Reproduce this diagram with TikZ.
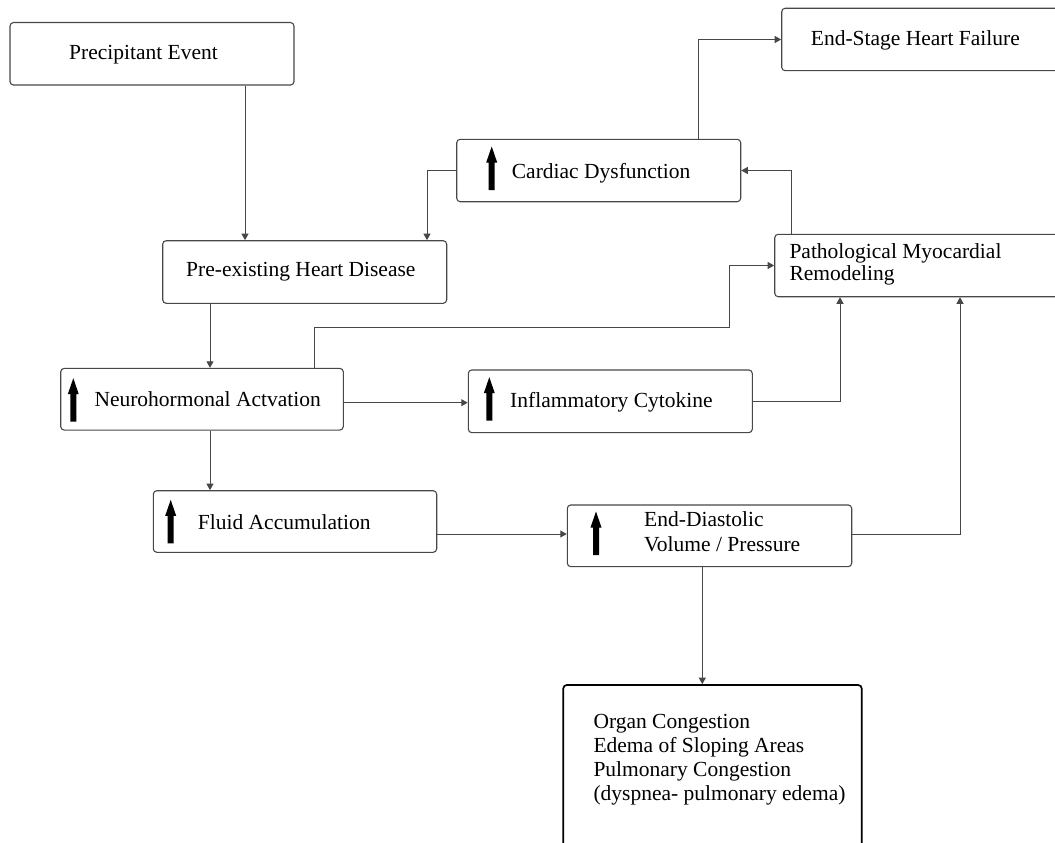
\documentclass[tikz,border=0pt]{standalone}
\usepackage{fontspec}
\setmainfont{Liberation Serif}
\usetikzlibrary{arrows.meta}
\begin{document}
\begin{tikzpicture}[x=1pt,y=-1pt,
  box/.style={draw=black!72,line width=1.1pt,rounded corners=3.5pt,inner sep=0pt},
  bigbox/.style={draw=black,line width=1.7pt,rounded corners=3.5pt,inner sep=0pt},
  txt/.style={inner sep=0pt,anchor=base west,align=left,font=\fontsize{21.5}{24.3}\selectfont},
  conn/.style={draw=black!72,line width=1pt},
  arr/.style={conn,-{Triangle[length=6.5pt,width=7pt]}},
  uparr/.pic={\fill[black] (-3,0) -- (-3,-27.5) -- (-5.5,-27.5) -- (0,-43.5) -- (5.5,-27.5) -- (3,-27.5) -- (3,0) -- cycle;}]
\useasboundingbox (0,0) rectangle (1055,843);
% boxes
\node[box,minimum width=284pt,minimum height=62.5pt] (prec) at (152,53.8) {};
\node[box,minimum width=284pt,minimum height=62.6pt] (pre) at (304.7,272) {};
\node[box,minimum width=284pt,minimum height=62.4pt] (cardiac) at (598.7,170.5) {};
\node[box,minimum width=300pt,minimum height=62.4pt] (endstage) at (931.7,39.5) {};
\node[box,minimum width=306pt,minimum height=62.4pt] (path) at (927.7,265.5) {};
\node[box,minimum width=282.6pt,minimum height=61.7pt] (neuro) at (202,399.2) {};
\node[box,minimum width=284pt,minimum height=62.7pt] (infl) at (610.3,401.3) {};
\node[box,minimum width=283.4pt,minimum height=61.6pt] (fluid) at (295,521.5) {};
\node[box,minimum width=284.4pt,minimum height=61.7pt] (edv) at (709.5,535.8) {};
\node[bigbox,minimum width=298.4pt,minimum height=215pt] (organ) at (712.5,792.5) {};
% texts (base anchor = baseline of the last line)
\node[txt] (precT) at (69,59.3) {Precipitant Event};
\node[txt] (preT) at (186,276) {Pre-existing Heart Disease};
\node[txt] (cardiacT) at (511.7,178.3) {Cardiac Dysfunction};
\node[txt] (endstageT) at (810.7,45.7) {End-Stage Heart Failure};
\node[txt,font=\fontsize{21.5}{21.7}\selectfont] (pathT) at (789.3,280) {Pathological Myocardial\\Remodeling};
\node[txt] (neuroT) at (94.3,406) {Neurohormonal Actvation};
\node[txt] (inflT) at (510,407.3) {Inflammatory Cytokine};
\node[txt] (fluidT) at (197.7,529.3) {Fluid Accumulation};
\node[txt,font=\fontsize{21.5}{25}\selectfont] (edvT) at (644,551.7) {End-Diastolic\\Volume / Pressure};
\node[txt,font=\fontsize{21.5}{24.2}\selectfont] (organT) at (593.3,800.9) {Organ Congestion\\Edema of Sloping Areas\\Pulmonary Congestion\\(dyspnea- pulmonary edema)};
% up arrows
\pic (cardiacA) at (491.7,190) {uparr};
\pic (neuroA) at (73.3,421.7) {uparr};
\pic (inflA) at (489.3,420.7) {uparr};
\pic (fluidA) at (170.7,543.3) {uparr};
\pic (edvA) at (596,555) {uparr};
% connector helper coordinates
\coordinate (a1) at (245,0);
\coordinate (b1) at (427,0);
\coordinate (c1) at (698,0);
\coordinate (d1) at (791,0);
\coordinate (e1) at (210,0);
\coordinate (f1) at (314.5,327.5);
\coordinate (f2) at (729.5,327.5);
\coordinate (g1) at (0,402.7);
\coordinate (h1) at (840,0);
\coordinate (j1) at (0,534);
\coordinate (k1) at (960,0);
\coordinate (l1) at (702.3,0);
% connectors
\draw[arr] (a1 |- prec.south) -- (a1 |- pre.north);
\draw[arr] (cardiac.west) -| (b1 |- pre.north);
\draw[arr] (c1 |- cardiac.north) |- (endstage.west);
\draw[arr] (d1 |- path.north) |- (cardiac.east);
\draw[arr] (e1 |- pre.south) -- (e1 |- neuro.north);
\draw[arr] (f1 |- neuro.north) -- (f1) -- (f2) |- (path.west);
\draw[arr] (g1 -| neuro.east) -- (g1 -| infl.west);
\draw[arr] (infl.east) -| (h1 |- path.south);
\draw[arr] (e1 |- neuro.south) -- (e1 |- fluid.north);
\draw[arr] (j1 -| fluid.east) -- (j1 -| edv.west);
\draw[arr] (j1 -| edv.east) -| (k1 |- path.south);
\draw[arr] (l1 |- edv.south) -- (l1 |- organ.north);
\end{tikzpicture}
\end{document}
